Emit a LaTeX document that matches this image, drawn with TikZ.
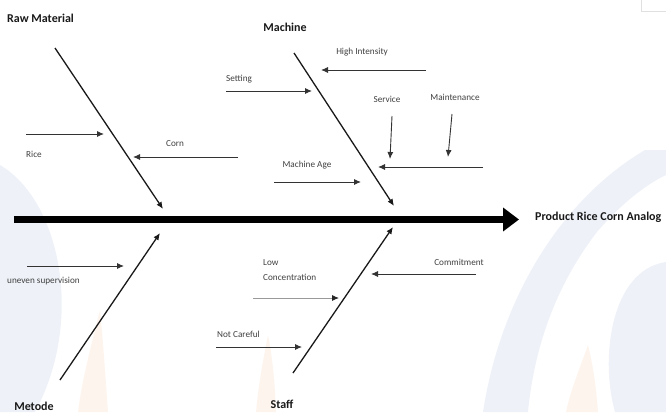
\documentclass[tikz,border=0pt]{standalone}
\usepackage{fontspec}
\setmainfont{Carlito}
\usetikzlibrary{arrows.meta}
\definecolor{wmblue}{RGB}{238,242,248}
\definecolor{wmorange}{RGB}{253,244,238}

\begin{document}
\begin{tikzpicture}[x=1pt,y=-1pt,
    >={Latex[length=7pt,width=6pt]},
    bone/.style={->,line width=1.3pt,black!90},
    cause/.style={->,line width=0.9pt,black!80},
    title/.style={font=\fontsize{12}{14}\selectfont\bfseries,text=black!90,inner sep=0pt},
    lbl/.style={font=\fontsize{9.2}{15}\selectfont,text=black!75,inner sep=0pt}]
        \useasboundingbox (0,0) rectangle (666,412);

        % faint logo in the background
        \fill[wmblue] (0,165) .. controls (60,200) and (85,320) .. (35,412) -- (0,412) -- cycle;
        \fill[wmorange] (100,310) .. controls (90,350) and (82,380) .. (78,412) -- (108,412) .. controls (105,370) and (103,340) .. (100,310) -- cycle;
        \fill[wmorange] (268,335) .. controls (261,370) and (258,390) .. (256,412) -- (276,412) .. controls (275,380) and (272,355) .. (268,335) -- cycle;
        \fill[wmblue] (645,150) .. controls (560,200) and (500,300) .. (483,412) -- (528,412) .. controls (535,340) and (560,280) .. (597,232) .. controls (620,205) and (645,185) .. (666,175) -- (666,150) -- cycle;
        \fill[wmblue] (666,262) .. controls (610,270) and (600,360) .. (615,412) -- (666,412) -- cycle;
        \fill[wmorange] (588,345) .. controls (579,370) and (570,392) .. (566,412) -- (598,412) .. controls (596,385) and (593,365) .. (588,345) -- cycle;
        \draw[black!12,line width=0.8pt] (641,0) -- (641,11) -- (666,11);

        %############################################

        \coordinate (tail) at (14,219.5);
        \coordinate (head) at (519,219.5);
        \draw[line width=7pt,black,-{Triangle[length=16pt,width=23pt]}] (tail) -- (head);
        \node[title,anchor=west] (prod) at (535,217) {Product Rice Corn Analog};

        %############################################ Raw Material

        \node[title,anchor=west] (RM) at (7,18) {Raw Material};
        \coordinate (RMs) at (55,48);
        \coordinate (RMt) at (163,209);
        \draw[bone] (RMs) -- (RMt);

        \coordinate (riceS) at (26,134);
        \coordinate (riceT) at (104,134);
        \node[lbl,anchor=west] (rice) at (26,154) {Rice};
        \draw[cause] (riceS) -- (riceT);

        \coordinate (cornS) at (238,157);
        \coordinate (cornT) at (133,157);
        \node[lbl] (corn) at (175,144) {Corn};
        \draw[cause] (cornS) -- (cornT);

        %############################################ Machine

        \node[title] (MC) at (285,27) {Machine};
        \coordinate (MCs) at (294,53);
        \coordinate (MCt) at (394,206);
        \draw[bone] (MCs) -- (MCt);

        \coordinate (hiS) at (426,70);
        \coordinate (hiT) at (321,70);
        \node[lbl] (hi) at (362,52) {High Intensity};
        \draw[cause] (hiS) -- (hiT);

        \coordinate (setS) at (226,91);
        \coordinate (setT) at (312,91);
        \node[lbl,anchor=west] (set) at (226,79) {Setting};
        \draw[cause] (setS) -- (setT);

        \coordinate (srvS) at (392,116);
        \coordinate (srvT) at (390,159);
        \node[lbl] (srv) at (387,99) {Service};
        \draw[cause] (srvS) -- (srvT);

        \coordinate (mntS) at (452,114);
        \coordinate (mntT) at (448,157);
        \node[lbl] (mnt) at (455,97) {Maintenance};
        \draw[cause] (mntS) -- (mntT);

        \coordinate (longS) at (483,167);
        \coordinate (longT) at (378,167);
        \draw[cause] (longS) -- (longT);

        \coordinate (ageS) at (274,182);
        \coordinate (ageT) at (361,182);
        \node[lbl] (age) at (307,165) {Machine Age};
        \draw[cause] (ageS) -- (ageT);

        %############################################ Metode

        \node[title] (MT) at (34,406) {Metode};
        \coordinate (MTs) at (60,380);
        \coordinate (MTt) at (160,233);
        \draw[bone] (MTs) -- (MTt);

        \coordinate (supS) at (27,266);
        \coordinate (supT) at (124,266);
        \node[lbl,anchor=west] (sup) at (7,281) {uneven supervision};
        \draw[cause] (supS) -- (supT);

        %############################################ Staff

        \node[title] (ST) at (282,404) {Staff};
        \coordinate (STs) at (293,373);
        \coordinate (STt) at (393,227);
        \draw[bone] (STs) -- (STt);

        \coordinate (lowS) at (253,298);
        \coordinate (lowT) at (339,298);
        \node[lbl,anchor=west,align=left] (low) at (263,270.5) {Low\\Concentration};
        \draw[cause,black!40,-{Latex[length=7pt,width=6pt,black!85]}] (lowS) -- (lowT);

        \coordinate (comS) at (476,274);
        \coordinate (comT) at (371,274);
        \node[lbl] (com) at (459,262) {Commitment};
        \draw[cause] (comS) -- (comT);

        \coordinate (ncS) at (216,347);
        \coordinate (ncT) at (302,347);
        \node[lbl,anchor=west] (nc) at (217,334) {Not Careful};
        \draw[cause] (ncS) -- (ncT);
    \end{tikzpicture}
\end{document}
